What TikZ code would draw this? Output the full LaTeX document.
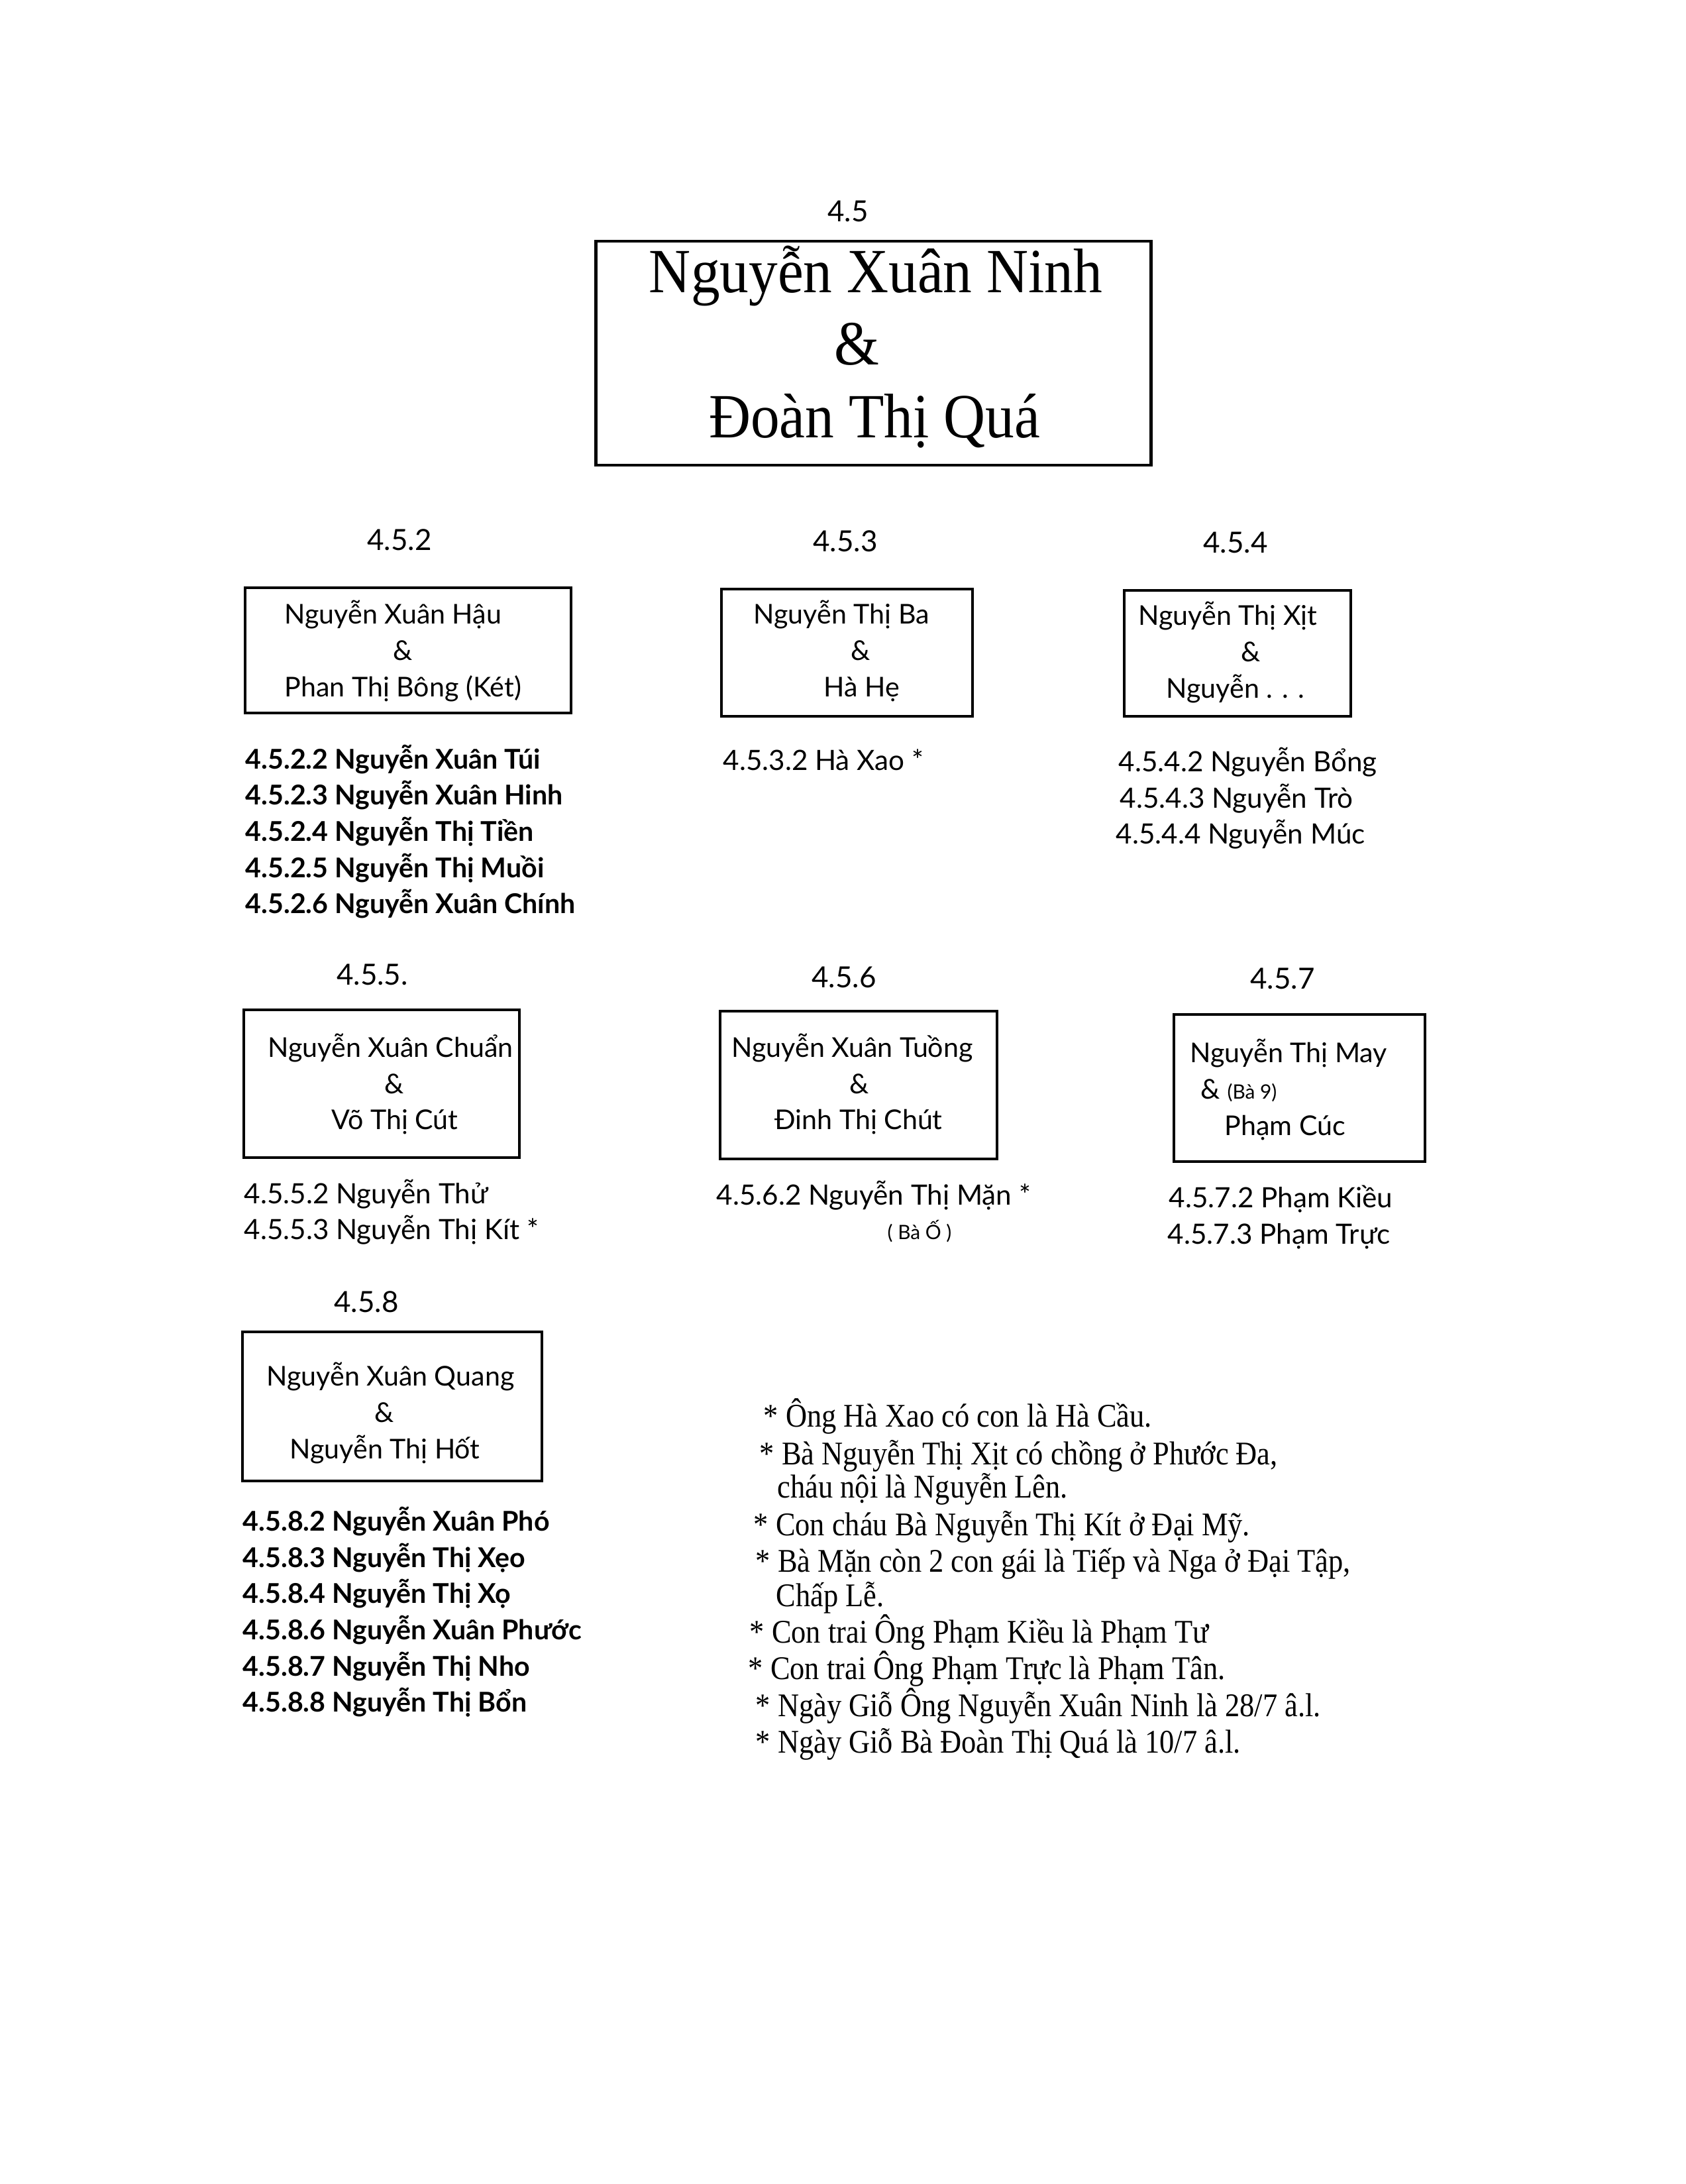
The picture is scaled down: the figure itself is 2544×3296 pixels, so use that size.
\documentclass[tikz,border=0pt]{standalone}
\usepackage{fontspec}
\setmainfont{Lato}
\newfontfamily\notefont[FakeStretch=0.89]{Liberation Serif}
\newfontfamily\titlefont[FakeStretch=0.92]{Liberation Serif}
\begin{document}
\begin{tikzpicture}[x=0.01cm,y=-0.01cm,
  famebox/.style={draw, line width=1.3pt, inner sep=0pt},
  tx/.style={anchor=base west, inner sep=0pt, font=\fontsize{11.7}{14}\selectfont},
  amp/.style={anchor=base, inner sep=0pt, font=\fontsize{11.7}{14}\selectfont},
  lbl/.style={anchor=base, inner sep=0pt, font=\fontsize{12.5}{14}\selectfont},
  lst/.style={anchor=base west, inner sep=0pt, font=\fontsize{12}{14}\selectfont},
  lstb/.style={anchor=base west, inner sep=0pt, font=\fontsize{11.7}{14}\selectfont\bfseries},
  small/.style={inner sep=0pt, font=\fontsize{8.5}{10}\selectfont},
  note/.style={anchor=base west, inner sep=0pt, font=\notefont\fontsize{14.2}{16}\selectfont},
  ttl/.style={anchor=base, inner sep=0pt, font=\titlefont\fontsize{27}{30}\selectfont}]
\useasboundingbox[fill=white] (0,0) rectangle (2544,3296);

% ---- top couple
\node[lbl] (l45) at (1280,334) {4.5};
\node[famebox, minimum width=8.37cm, minimum height=3.38cm] (b45) at (1318.5,533) {};
\node[ttl] (t45a) at (1322,441) {Nguyễn Xuân Ninh};
\node[ttl] (t45b) at (1293,550) {\&};
\node[ttl] (t45c) at (1320,660) {Đoàn Thị Quá};

% ---- 4.5.2
\node[lbl] (l452) at (603,830) {4.5.2};
\node[famebox, minimum width=4.92cm, minimum height=1.89cm] (b452) at (616,981.5) {};
\node[tx] (b452a) at (429,941) {Nguyễn Xuân Hậu};
\node[amp] (b452b) at (608,996) {\&};
\node[tx] (b452c) at (429,1051) {Phan Thị Bông (Két)};
\node[lstb] (c4522) at (370,1160) {4.5.2.2 Nguyễn Xuân Túi};
\node[lstb] (c4523) at (370,1214) {4.5.2.3 Nguyễn Xuân Hinh};
\node[lstb] (c4524) at (370,1269) {4.5.2.4 Nguyễn Thị Tiền};
\node[lstb] (c4525) at (370,1324) {4.5.2.5 Nguyễn Thị Muồi};
\node[lstb] (c4526) at (370,1378) {4.5.2.6 Nguyễn Xuân Chính};

% ---- 4.5.3
\node[lbl] (l453) at (1276,832) {4.5.3};
\node[famebox, minimum width=3.79cm, minimum height=1.92cm] (b453) at (1278.5,985) {};
\node[tx] (b453a) at (1137,941) {Nguyễn Thị Ba};
\node[amp] (b453b) at (1299,996) {\&};
\node[tx] (b453c) at (1243,1051) {Hà Hẹ};
\node[lst] (c4532) at (1091,1162) {4.5.3.2 Hà Xao *};

% ---- 4.5.4
\node[lbl] (l454) at (1865,834) {4.5.4};
\node[famebox, minimum width=3.42cm, minimum height=1.90cm] (b454) at (1868,986) {};
\node[tx] (b454a) at (1718,943) {Nguyễn Thị Xịt};
\node[amp] (b454b) at (1888,998) {\&};
\node[tx] (b454c) at (1760,1053) {Nguyễn . . .};
\node[lst] (c4542) at (1688,1164) {4.5.4.2 Nguyễn Bổng};
\node[lst] (c4543) at (1690,1219) {4.5.4.3 Nguyễn Trò};
\node[lst] (c4544) at (1684,1273) {4.5.4.4 Nguyễn Múc};

% ---- 4.5.5
\node[lbl] (l455) at (562,1486) {4.5.5.};
\node[famebox, minimum width=4.16cm, minimum height=2.23cm] (b455) at (576,1635.5) {};
\node[tx] (b455a) at (404,1595) {Nguyễn Xuân Chuẩn};
\node[amp] (b455b) at (595,1650) {\&};
\node[tx] (b455c) at (500,1704) {Võ Thị Cút};
\node[lst] (c4552) at (368,1816) {4.5.5.2 Nguyễn Thử};
\node[lst] (c4553) at (368,1870) {4.5.5.3 Nguyễn Thị Kít *};

% ---- 4.5.6
\node[lbl] (l456) at (1274,1490) {4.5.6};
\node[famebox, minimum width=4.18cm, minimum height=2.23cm] (b456) at (1296,1637.5) {};
\node[tx] (b456a) at (1104,1595) {Nguyễn Xuân Tuồng};
\node[amp] (b456b) at (1297,1650) {\&};
\node[tx] (b456c) at (1169,1704) {Đinh Thị Chút};
\node[lst] (c4562) at (1081,1818) {4.5.6.2 Nguyễn Thị Mặn *};
\node[small, anchor=base] (c4562n) at (1388,1870) {( Bà Ố )};

% ---- 4.5.7
\node[lbl] (l457) at (1936,1492) {4.5.7};
\node[famebox, minimum width=3.79cm, minimum height=2.22cm] (b457) at (1961.5,1642) {};
\node[tx] (b457a) at (1796,1603) {Nguyễn Thị May};
\node[tx] (b457b) at (1812,1658) {\& \fontsize{8.5}{10}\selectfont(Bà 9)};
\node[tx] (b457c) at (1848,1713) {Phạm Cúc};
\node[lst] (c4572) at (1764,1822) {4.5.7.2 Phạm Kiều};
\node[lst] (c4573) at (1762,1877) {4.5.7.3 Phạm Trực};

% ---- 4.5.8
\node[lbl] (l458) at (553,1980) {4.5.8};
\node[famebox, minimum width=4.52cm, minimum height=2.25cm] (b458) at (592,2122.5) {};
\node[tx] (b458a) at (402,2091) {Nguyễn Xuân Quang};
\node[amp] (b458b) at (580,2146) {\&};
\node[tx] (b458c) at (437,2201) {Nguyễn Thị Hốt};
\node[lstb] (c4582) at (366,2310) {4.5.8.2 Nguyễn Xuân Phó};
\node[lstb] (c4583) at (366,2365) {4.5.8.3 Nguyễn Thị Xẹo};
\node[lstb] (c4584) at (366,2419) {4.5.8.4 Nguyễn Thị Xọ};
\node[lstb] (c4586) at (366,2474) {4.5.8.6 Nguyễn Xuân Phước};
\node[lstb] (c4587) at (366,2529) {4.5.8.7 Nguyễn Thị Nho};
\node[lstb] (c4588) at (366,2583) {4.5.8.8 Nguyễn Thị Bổn};

% ---- notes
\node[note] (n1) at (1152,2153) {* Ông Hà Xao có con là Hà Cầu.};
\node[note] (n2) at (1146,2210) {* Bà Nguyễn Thị Xịt có chồng ở Phước Đa,};
\node[note] (n3) at (1173,2260) {cháu nội là Nguyễn Lên.};
\node[note] (n4) at (1137,2317) {* Con cháu Bà Nguyễn Thị Kít ở Đại Mỹ.};
\node[note] (n5) at (1140,2372) {* Bà Mặn còn 2 con gái là Tiếp và Nga ở Đại Tập,};
\node[note] (n6) at (1171,2424) {Chấp Lễ.};
\node[note] (n7) at (1131,2479) {* Con trai Ông Phạm Kiều là Phạm Tư};
\node[note] (n8) at (1129,2534) {* Con trai Ông Phạm Trực là Phạm Tân.};
\node[note] (n9) at (1140,2590) {* Ngày Giỗ Ông Nguyễn Xuân Ninh là 28/7 â.l.};
\node[note] (n10) at (1140,2645) {* Ngày Giỗ Bà Đoàn Thị Quá là 10/7 â.l.};
\end{tikzpicture}
\end{document}
